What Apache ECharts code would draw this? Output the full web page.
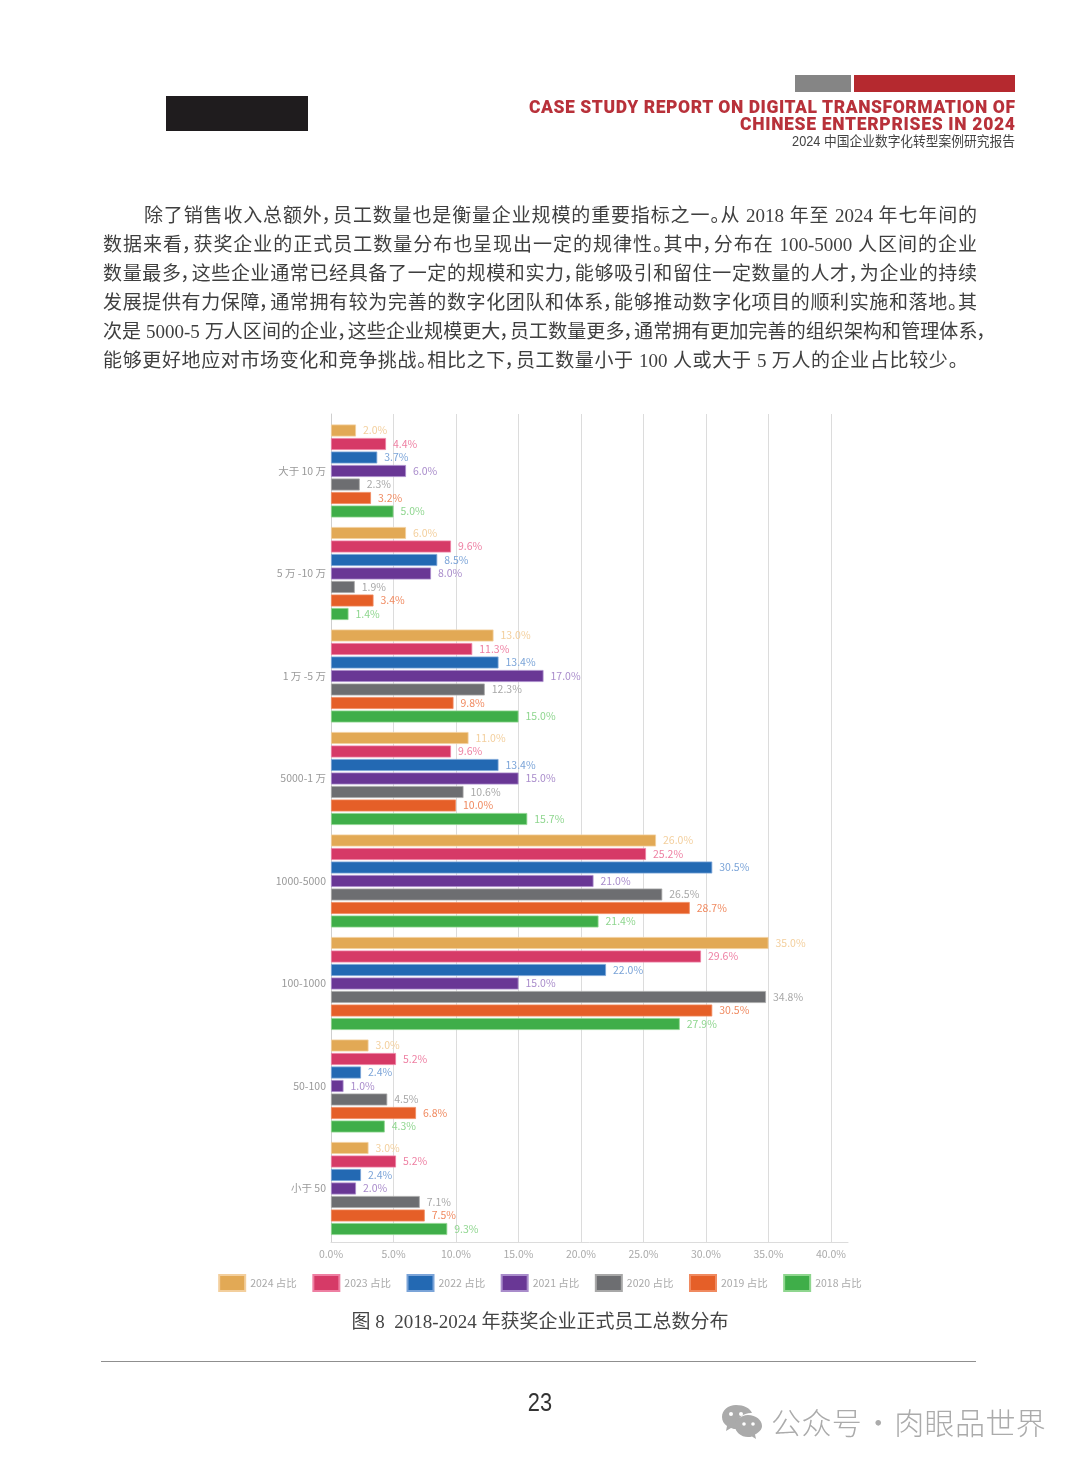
<!DOCTYPE html>
<html><head><meta charset="utf-8">
<style>
html,body{margin:0;padding:0;background:#fff;width:1080px;height:1465px;overflow:hidden}
#chart{position:absolute;left:0;top:0;width:1080px;height:1465px}
.a{position:absolute;white-space:nowrap}
.l{position:absolute;white-space:nowrap;font:19px/29px "Liberation Serif","Noto Sans CJK SC",serif;color:#3f3f3f;text-align:justify;text-align-last:justify;font-feature-settings:"palt";height:29px}
.h{position:absolute;white-space:nowrap;font:900 17.5px/18px Roboto,sans-serif;color:#b8313a;right:65px}
</style>
<script src="https://cdn.jsdelivr.net/npm/echarts@6/dist/echarts.min.js"></script>
</head><body>
<div id="chart"></div>
<div class="a" style="left:165.500px;top:95.500px;width:142px;height:35.500px;background:#1f1c1e"></div>
<div class="a" style="left:795px;top:75px;width:56px;height:17px;background:#858585"></div>
<div class="a" style="left:854px;top:75px;width:161px;height:17px;background:#b5292f"></div>
<div class="h" data-w="486" style="top:98px">CASE STUDY REPORT ON DIGITAL TRANSFORMATION OF</div>
<div class="h" data-w="275" style="top:115px">CHINESE ENTERPRISES IN 2024</div>
<div class="a" style="right:65px;top:132px;font:14px/18px 'Liberation Sans','Noto Sans CJK SC',sans-serif;color:#444;transform:scaleX(.91);transform-origin:right center">2024 中国企业数字化转型案例研究报告</div>

<div class="l" style="left:144px;top:201px;width:833px">除了销售收入总额外，员工数量也是衡量企业规模的重要指标之一。从 2018 年至 2024 年七年间的</div>
<div class="l" style="left:103px;top:230px;width:874px">数据来看，获奖企业的正式员工数量分布也呈现出一定的规律性。其中，分布在 100-5000 人区间的企业</div>
<div class="l" style="left:103px;top:259px;width:874px">数量最多，这些企业通常已经具备了一定的规模和实力，能够吸引和留住一定数量的人才，为企业的持续</div>
<div class="l" style="left:103px;top:288px;width:874px">发展提供有力保障，通常拥有较为完善的数字化团队和体系，能够推动数字化项目的顺利实施和落地。其</div>
<div class="l" style="left:103px;top:317px;width:884px">次是 5000-5 万人区间的企业，这些企业规模更大，员工数量更多，通常拥有更加完善的组织架构和管理体系，</div>
<div class="l" style="left:103px;top:346px;width:855px">能够更好地应对市场变化和竞争挑战。相比之下，员工数量小于 100 人或大于 5 万人的企业占比较少。</div>

<div class="a" style="left:101px;top:1361px;width:875px;height:1px;background:#8f8f8f"></div>
<div class="a" style="left:520px;top:1387px;width:40px;text-align:center;font:26px/30px 'Liberation Sans',sans-serif;color:#333;transform:scaleX(.84)">23</div>
<svg class="a" style="left:721px;top:1404px" width="42" height="36" viewBox="0 0 42 36">
<path fill="#aaa" d="M15 1C7 1 1 6 1 13c0 4 2 7 5 9l-1 5 5-3c2 1 4 1 5 1h2c-.6-1.400-1-3-1-4 0-7 6-12 14-12h1C29 4 23 1 15 1z"/>
<path fill="#aaa" d="M27 11c-7 0-13 5-13 11s6 11 13 11c1.500 0 3-.2 4-.6l4 2.600-1-4.500c4-2 7-5 7-8.500 0-6-6-11-14-11z"/>
<circle cx="10" cy="10" r="2" fill="#fff"/><circle cx="20" cy="10" r="2" fill="#fff"/>
<circle cx="23" cy="20" r="1.800" fill="#fff"/><circle cx="32" cy="20" r="1.800" fill="#fff"/>
</svg>
<div class="a" style="left:771px;top:1402px;font:30px/38px 'Noto Sans CJK SC',sans-serif;font-weight:300;color:#ababab;letter-spacing:.4px">公众号<span style="display:inline-block;width:32px;text-align:center;letter-spacing:0">·</span>肉眼品世界</div>

<script>
document.querySelectorAll('.h').forEach(el=>{
  const target=+el.dataset.w, n=el.textContent.length;
  const w=el.getBoundingClientRect().width;
  el.style.letterSpacing=((target-w)/(n-1))+'px';
  el.style.marginRight=(-(target-w)/(n-1))+'px';
});
const categories = ['大于 10 万','5 万 -10 万','1 万 -5 万','5000-1 万','1000-5000','100-1000','50-100','小于 50'];
const xTicks = [0,5,10,15,20,25,30,35,40];
const v2024 = [2.0,6.0,13.0,11.0,26.0,35.0,3.0,3.0];
const v2023 = [4.4,9.6,11.3,9.6,25.2,29.6,5.2,5.2];
const v2022 = [3.7,8.5,13.4,13.4,30.5,22.0,2.4,2.4];
const v2021 = [6.0,8.0,17.0,15.0,21.0,15.0,1.0,2.0];
const v2020 = [2.3,1.9,12.3,10.6,26.5,34.8,4.5,7.1];
const v2019 = [3.2,3.4,9.8,10.0,28.7,30.5,6.8,7.5];
const v2018 = [5.0,1.4,15.0,15.7,21.4,27.9,4.3,9.3];
const seriesNames = ['2024 占比','2023 占比','2022 占比','2021 占比','2020 占比','2019 占比','2018 占比'];
const seriesValues = [v2024,v2023,v2022,v2021,v2020,v2019,v2018];
const barColors = ['#e2a955','#d63a67','#2369b3','#693795','#6d6e71','#e55f28','#3fae49'];
const labelColors = ['#f3cf9d','#ee7fa2','#7ba4d8','#a98ccb','#a8a8a8','#f08a60','#8fd68f'];
const font = '"Noto Sans CJK SC","Lato",sans-serif';
const axisMax = 41.36;
const chart = echarts.init(document.getElementById('chart'));
chart.setOption({
  animation:false,
  title:{text:'图 8  2018-2024 年获奖企业正式员工总数分布',left:'center',top:1309,
    textStyle:{fontFamily:'"Liberation Serif","Noto Sans CJK SC",serif',fontSize:19,fontWeight:'normal',color:'#444'}},
  legend:{left:'center',top:1269,itemWidth:26,itemHeight:16,itemGap:15.5,icon:'rect',
    data:seriesNames,textStyle:{color:'#aaa',fontSize:10.5,fontFamily:font}},
  grid:[
    {left:331,top:414,width:517,height:828},
    {left:331,top:419.75,width:517,height:820}
  ],
  xAxis:[
    {gridIndex:0,type:'value',min:0,max:axisMax,interval:5,
     axisLine:{show:true,lineStyle:{color:'#dcdcdc'}},axisTick:{show:false},
     splitLine:{show:true,showMaxLine:false,lineStyle:{color:'#dcdcdc',width:1}},
     axisLabel:{margin:7,color:'#aaa',fontSize:10.5,fontFamily:font,showMaxLabel:false,
       formatter:v=>xTicks.includes(v)?v.toFixed(1)+'%':''}},
    {gridIndex:1,type:'value',min:0,max:axisMax,interval:5,show:false}
  ],
  yAxis:[
    {gridIndex:0,type:'category',data:[],axisLine:{show:true,lineStyle:{color:'#cfcfcf'}},axisTick:{show:false},axisLabel:{show:false},splitLine:{show:false}},
    {gridIndex:1,type:'category',inverse:true,data:categories,axisLine:{show:false},axisTick:{show:false},
     axisLabel:{margin:5,color:'#999',fontSize:10.5,fontFamily:font}}
  ],
  series:seriesNames.map((n,i)=>({
    name:n,type:'bar',xAxisIndex:1,yAxisIndex:1,data:seriesValues[i],
    barWidth:12,barGap:'12.5%',
    itemStyle:{color:barColors[i],borderColor:labelColors[i],borderWidth:0.8},
    label:{show:true,position:'right',distance:7,color:labelColors[i],fontSize:10.5,fontFamily:font,
      formatter:p=>p.value.toFixed(1)+'%'}
  }))
});
</script>
</body></html>
